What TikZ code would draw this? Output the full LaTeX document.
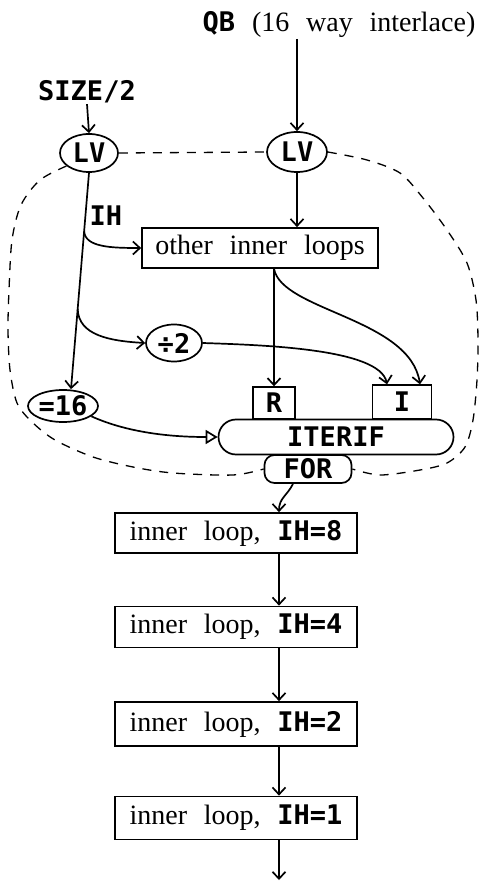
\documentclass[tikz,border=0pt]{standalone}
\usepackage{fontspec}
\setmainfont{Liberation Serif}
\newfontfamily\codefont{DejaVu Sans Mono}
\newcommand\cdtxt[1]{{\codefont\bfseries\fontsize{27}{30}\selectfont #1}}
\newcommand\serifsz{\fontsize{28}{31}\selectfont\spaceskip 0.6em\relax}
\usetikzlibrary{arrows.meta,shapes.geometric,shapes.misc,calc}
\begin{document}
\begin{tikzpicture}[x=1pt,y=-1pt,line width=1.7pt,
  every node/.style={font=\serifsz, inner sep=0pt},
  arr/.style={-{Straight Barb[length=7pt,width=13pt]}},
  opentri/.style={-{Triangle[open,length=12pt,width=14pt]}},
  sqbox/.style={draw,rectangle},
  ell/.style={draw,ellipse},
  loopbox/.style={draw,rectangle,minimum width=242pt,minimum height=41pt},
  bound/.style={dash pattern=on 9pt off 8pt,line width=1.3pt}]
\useasboundingbox (0,0) rectangle (480,882);

% nodes
\node (qb) at (339,25) {\cdtxt{QB} (16 way interlace)};
\node (size) at (87,92) {\cdtxt{SIZE/2}};
\node[ell,minimum width=58pt,minimum height=38pt] (lv1) at (89,153) {\cdtxt{LV}};
\node[ell,minimum width=60pt,minimum height=40pt] (lv2) at (297,152) {\cdtxt{LV}};
\node (ih) at (106,216) {\cdtxt{IH}};
\node[sqbox,minimum width=236pt,minimum height=40pt] (oil) at (260,248) {other inner loops};
\node[ell,minimum width=56pt,minimum height=37pt] (dv) at (174,343) {\cdtxt{÷2}};
\node[ell,minimum width=70pt,minimum height=32pt] (eq) at (63,406) {\cdtxt{=16}};
\node[draw,rounded rectangle,minimum width=235pt,minimum height=35pt] (iter) at (336,437) {\cdtxt{ITERIF}};
\node[sqbox,minimum width=42pt,minimum height=32pt,anchor=south] (r) at (274,420) {\cdtxt{R}};
\node[sqbox,minimum width=59pt,minimum height=34pt,anchor=south] (i) at (402,420) {\cdtxt{I}};
\node[draw,rounded corners=10pt,minimum width=87pt,minimum height=28pt] (for) at (308,469) {\cdtxt{FOR}};
\node[loopbox,minimum height=40pt] (l1) at (236,533) {inner loop, \cdtxt{IH=8}};
\node[loopbox] (l2) at (236,627) {inner loop, \cdtxt{IH=4}};
\node[loopbox,minimum height=44pt] (l3) at (236,724) {inner loop, \cdtxt{IH=2}};
\node[loopbox,minimum height=43pt] (l4) at (236,818) {inner loop, \cdtxt{IH=1}};
\coordinate (end) at (279,880);

% dashed boundary
\draw[bound] (lv1.east) -- (lv2.west);
\draw[bound] plot[smooth] coordinates {(lv1.210) (40,180) (21,205) (12,240) (9,290) (8,330) (10,370) (17,403) (32,422) (55,440) (93,457) (133,467) (173,473) (233,475) (for.west)};
\draw[bound] plot[smooth] coordinates {(lv2.east) (367,160) (400,173) (423,198) (447,230) (467,263) (476,300) (478,340) (477,380) (473,420) (465,447) (447,463) (420,470) (380,475) (for.east)};

% connectors
\coordinate (eqin) at ([xshift=8pt]eq.north);
\coordinate (b1) at ($(lv1.south)!0.27!(eqin)$);
\coordinate (b2) at ($(lv1.south)!0.63!(eqin)$);
\draw[arr] (size.south) -- (lv1.north);
\draw[arr] (qb.south -| lv2.north) -- (lv2.north);
\draw[arr] (lv1.south) -- (eqin);
\draw[arr] (b1) .. controls +(1,16) and +(-30,0) .. (oil.west);
\draw[arr] (b2) .. controls +(1,26) and +(-36,-2) .. (dv.west);
\draw[arr] (lv2.south) -- (lv2.south |- oil.north);
\coordinate (os) at (oil.south -| r.north);
\draw[arr] (os) -- (r.north);
\draw[arr] (os) .. controls +(8,42) and +(-10,-66) .. ([xshift=18pt]i.north);
\draw[arr] (dv.east) .. controls +(58,2) and +(-7,-36) .. ([xshift=-15pt]i.north);
\draw[opentri] (eq.-20) .. controls +(40,18) and +(-40,0) .. (iter.west);
\draw[arr] ([xshift=-15pt]for.south) .. controls +(-6,12) and +(0,-14) .. (l1.north -| end);
\draw[arr] (l1.south -| end) -- (l2.north -| end);
\draw[arr] (l2.south -| end) -- (l3.north -| end);
\draw[arr] (l3.south -| end) -- (l4.north -| end);
\draw[arr] (l4.south -| end) -- (end);
\end{tikzpicture}
\end{document}
